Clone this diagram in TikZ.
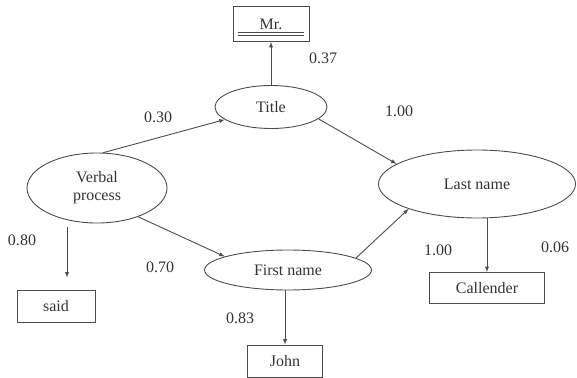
\documentclass[tikz,border=0pt]{standalone}
\usepackage{fontspec}
\setmainfont{Liberation Serif}
\usepackage{tikz}
\usetikzlibrary{shapes.geometric}

\begin{document}
\begin{tikzpicture}
                [
                    x=1pt, y=-1pt,
                    -latex,
                    line width=0.9pt,
                    color=black!70,
                    text=black!80,
                    font=\fontsize{16}{17}\selectfont,
                    concept/.style={shape=ellipse, draw, inner sep=0pt},
                    word/.style={shape=rectangle, draw, inner xsep=0pt,
                        minimum height=32pt},
                    prob/.style={inner sep=0pt}
                ]
                \useasboundingbox (0,0) rectangle (577,377);

                \node (verbal) [concept, minimum width=140pt, minimum height=70pt,
                    align=center] at (97,188) {Verbal\\[1pt]process};
                \node (title) [concept, minimum width=112pt, minimum height=43pt]
                    at (271,107) {Title};
                \node (first) [concept, minimum width=167pt, minimum height=40pt]
                    at (288,270) {First name};
                \node (last) [concept, minimum width=197pt, minimum height=68pt]
                    at (477,184) {Last name};

                \node (mr) [word, minimum width=76pt, minimum height=35pt,
                    above of=title, node distance=83pt] {Mr.};
                \node (said) [word, minimum width=78pt] at (56,306) {said};
                \node (john) [word, minimum width=75pt] at (285,361) {John};
                \node (callender) [word, minimum width=115pt, minimum height=31pt]
                    at (487,288) {Callender};

                % underline of Mr.
                \foreach \lift in {7pt,9.5pt}
                    \draw [-, line width=0.8pt]
                        ([xshift=5pt,yshift=\lift]mr.south west)
                        -- ([xshift=-5pt,yshift=\lift]mr.south east);

                \path
                (title.north) edge (mr.south)
                (verbal.80) edge (title)
                (title.-14) edge (last.166)
                (verbal.-35) edge (first.168)
                (first.10) edge (last.200)
                ([xshift=-30pt]verbal.south) edge [shorten <=4pt, shorten >=12pt]
                    ([xshift=11pt]said.north)
                (first.south -| john) edge (john.north)
                (callender.north |- last.south) edge (callender.north)
                ;

                \node (p mr)    [prob] at (323,58)  {0.37};
                \node (p title) [prob] at (158,117) {0.30};
                \node (p last)  [prob] at (399,111) {1.00};
                \node (p said)  [prob] at (22,240)  {0.80};
                \node (p first) [prob] at (160,267) {0.70};
                \node (p john)  [prob] at (240,318) {0.83};
                \node (p cal a) [prob] at (438,250) {1.00};
                \node (p cal b) [prob] at (555,247) {0.06};

            \end{tikzpicture}
\end{document}
